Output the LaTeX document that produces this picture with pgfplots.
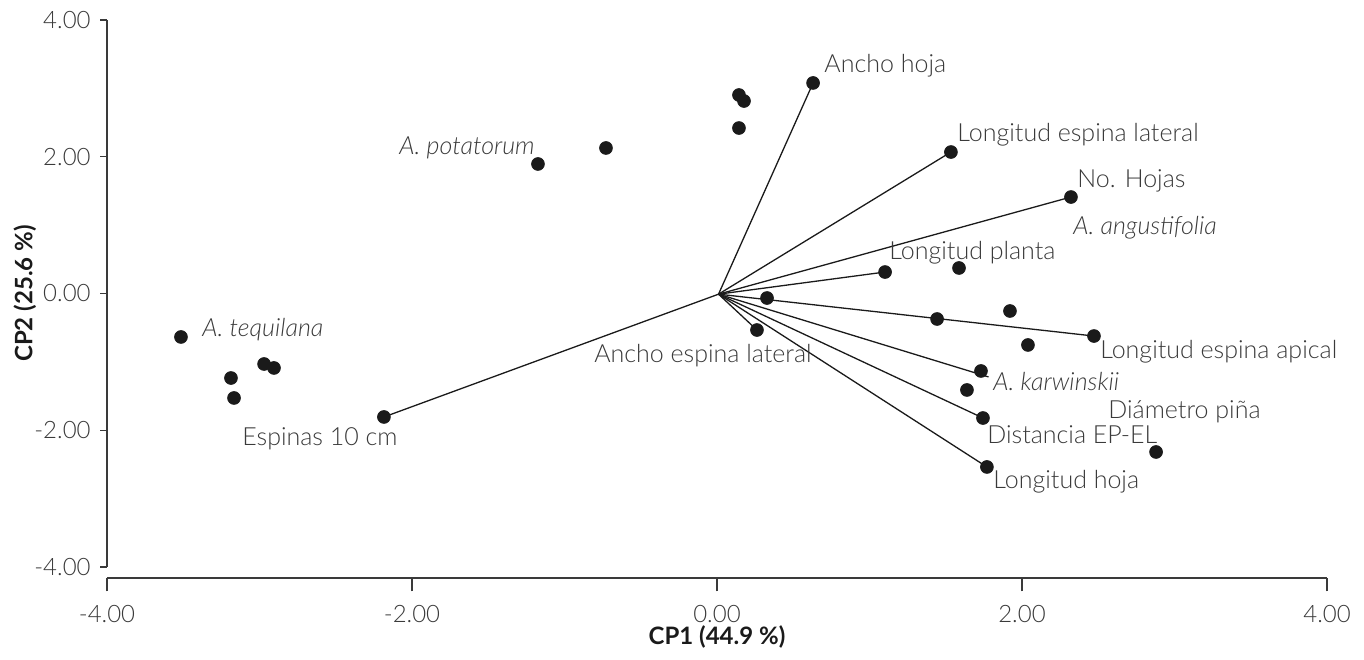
\documentclass[border=0pt]{standalone}
\usepackage{pgfplots}
\pgfplotsset{compat=1.18}
\usepackage{fontspec}
\setmainfont{Lato Light}[BoldFont={Lato Bold}, ItalicFont={Lato Light Italic}]
\definecolor{txt}{HTML}{3A3A3A}
\definecolor{pt}{HTML}{1A1A1A}
\begin{document}
\fontsize{12}{14.4}\selectfont
\begin{tikzpicture}[x=1pt,y=1pt,font=\fontsize{12}{14.4}\selectfont,
  lab/.style={anchor=base west, inner sep=0pt, text=txt, font=\fontsize{12.5}{15}\selectfont}]
\useasboundingbox (-53.5,-40.5) rectangle (628.5,289);
\begin{axis}[
  at={(0,0)}, anchor=south west,
  width=610pt, height=279pt, scale only axis,
  xmin=-4, xmax=4, ymin=-4.161, ymax=4,
  axis x line*=bottom, axis y line*=left,
  separate axis lines,
  x axis line style={-, line width=0.6pt, color=txt},
  y axis line style={draw=none},
  xtick={-4,-2,0,2,4}, xticklabels={},
  ytick=\empty,
  tick align=outside, major tick length=6.7pt,
  xtick style={line width=0.6pt, color=txt},
  clip=false,
]
% variable vectors
\addplot[line width=0.65pt, color=pt] coordinates {(0.01,-0.01) (0.630,3.079)};
\addplot[line width=0.65pt, color=pt] coordinates {(0.01,-0.01) (1.534,2.069)};
\addplot[line width=0.65pt, color=pt] coordinates {(0.01,-0.01) (2.321,1.411)};
\addplot[line width=0.65pt, color=pt] coordinates {(0.01,-0.01) (1.102,0.314)};
\addplot[line width=0.65pt, color=pt] coordinates {(0.01,-0.01) (2.472,-0.622)};
\addplot[line width=0.65pt, color=pt] coordinates {(0.01,-0.01) (0.262,-0.534)};
\addplot[line width=0.65pt, color=pt] coordinates {(0.01,-0.01) (1.780,-1.220)};
\addplot[line width=0.65pt, color=pt] coordinates {(0.01,-0.01) (1.744,-1.821)};
\addplot[line width=0.65pt, color=pt] coordinates {(0.01,-0.01) (1.770,-2.537)};
\addplot[line width=0.65pt, color=pt] coordinates {(0.01,-0.01) (-2.184,-1.806)};
% points
\addplot[only marks, mark=*, mark size=3.2pt, color=pt] coordinates {
(-3.515,-0.636) (-3.187,-1.236) (-3.167,-1.528) (-2.970,-1.031) (-2.905,-1.089)
(-2.184,-1.806) (-1.174,1.894) (-0.728,2.128) (0.144,2.903) (0.177,2.815)
(0.144,2.420) (0.630,3.079) (1.534,2.069) (2.321,1.411) (1.102,0.314)
(1.587,0.373) (0.328,-0.066) (0.262,-0.534) (1.443,-0.373) (1.921,-0.256)
(2.472,-0.622) (2.039,-0.753) (1.731,-1.133) (1.639,-1.411) (1.744,-1.821)
(1.770,-2.537) (2.879,-2.318)
};
% y axis line and ticks
\draw[line width=0.6pt, color=txt] (axis cs:-4,-4) -- (axis cs:-4,4);
\pgfplotsinvokeforeach{-4,-2,0,2,4}{\draw[line width=0.6pt, color=txt] (axis cs:-4,#1) -- ++(-3.5pt,0pt);}
% tick labels
\node[anchor=east, inner sep=0pt, text=txt, xshift=-8pt] at (axis cs:-4,4) {4.00};
\node[anchor=east, inner sep=0pt, text=txt, xshift=-8pt] at (axis cs:-4,2) {2.00};
\node[anchor=east, inner sep=0pt, text=txt, xshift=-8pt] at (axis cs:-4,0) {0.00};
\node[anchor=east, inner sep=0pt, text=txt, xshift=-8pt] at (axis cs:-4,-2) {-2.00};
\node[anchor=east, inner sep=0pt, text=txt, xshift=-8pt] at (axis cs:-4,-4) {-4.00};
\node[anchor=base, inner sep=0pt, text=txt, yshift=-22pt] at (axis cs:-4,-4.161) {-4.00};
\node[anchor=base, inner sep=0pt, text=txt, yshift=-22pt] at (axis cs:-2,-4.161) {-2.00};
\node[anchor=base, inner sep=0pt, text=txt, yshift=-22pt] at (axis cs:0,-4.161) {0.00};
\node[anchor=base, inner sep=0pt, text=txt, yshift=-22pt] at (axis cs:2,-4.161) {2.00};
\node[anchor=base, inner sep=0pt, text=txt, yshift=-22pt] at (axis cs:4,-4.161) {4.00};
% axis titles
\node[anchor=base, inner sep=0pt, text=pt, font=\fontsize{12}{14.4}\selectfont\bfseries] at (axis cs:0,-5.13) {CP1 (44.9 \%)};
\node[anchor=center, inner sep=0pt, text=pt, rotate=90, font=\fontsize{12}{14.4}\selectfont\bfseries] at (axis cs:-4.538,0) {CP2 (25.6 \%)};
% labels
\node[lab] at (axis cs:0.702,3.225) {Ancho hoja};
\node[lab] at (axis cs:1.574,2.230) {Longitud espina lateral};
\node[lab] at (axis cs:2.361,1.543) {No. Hojas};
\node[lab] at (axis cs:2.334,0.870) {\itshape A. angustifolia};
\node[lab] at (axis cs:1.128,0.490) {Longitud planta};
\node[lab] at (axis cs:2.511,-0.958) {Longitud espina apical};
\node[lab] at (axis cs:-0.807,-1.016) {Ancho espina lateral};
\node[lab] at (axis cs:1.810,-1.426) {\itshape A. karwinskii};
\node[lab] at (axis cs:2.564,-1.821) {Diámetro piña};
\node[lab] at (axis cs:1.770,-2.187) {Distancia EP-EL};
\node[lab] at (axis cs:1.810,-2.859) {Longitud hoja};
\node[lab] at (axis cs:-3.377,-0.636) {\itshape A. tequilana};
\node[lab] at (axis cs:-3.115,-2.230) {Espinas 10 cm};
\node[lab] at (axis cs:-2.085,2.026) {\itshape A. potatorum};
\end{axis}
\end{tikzpicture}
\end{document}
